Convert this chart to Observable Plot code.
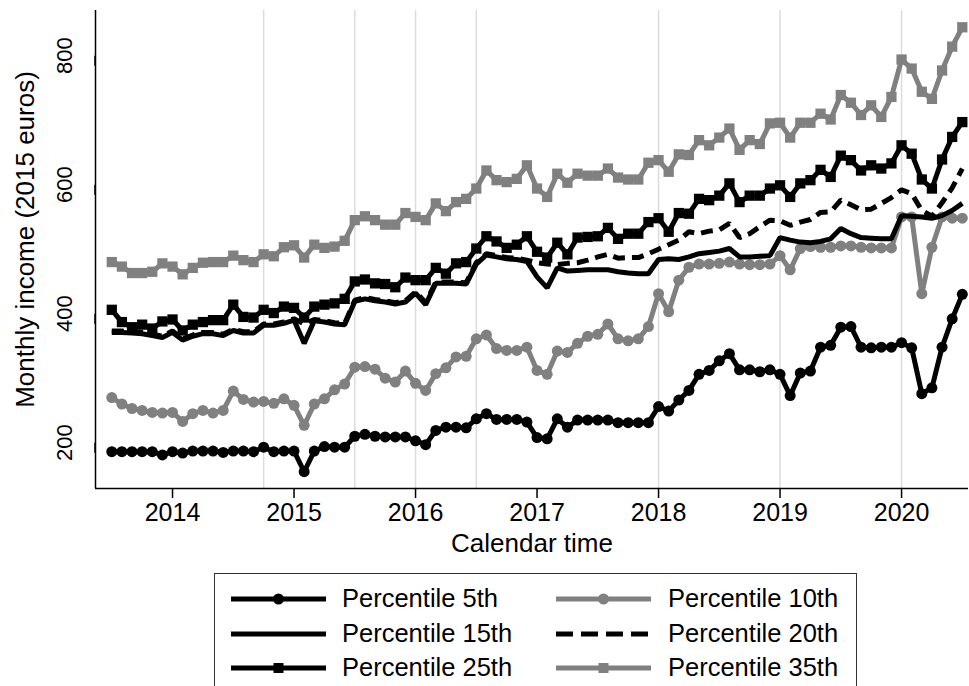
<!DOCTYPE html>
<html>
<head>
<meta charset="utf-8">
<script src="https://cdn.jsdelivr.net/npm/d3@7"></script>
<script src="https://cdn.jsdelivr.net/npm/@observablehq/plot@0.6"></script>
<style>
  body { margin: 0; background: white; }
  #wrap { position: relative; width: 969px; height: 686px; overflow: hidden; background: white; }
  #legend { position: absolute; left: 214px; top: 573px; width: 643px; height: 140px; border: 1.5px solid #333; box-sizing: border-box; font-family: "Liberation Sans", Arial, sans-serif; font-size: 25.5px; }
  .item-swatch { position: absolute; }
  .item-text { position: absolute; white-space: nowrap; transform: translateY(-50%); line-height: 1; }
</style>
</head>
<body>
<div id="wrap"></div>
<script>
// Monthly observations, July 2013 to July 2020
const startYear = 2013.5;
const yearTicks = [2014, 2015, 2016, 2017, 2018, 2019, 2020];
const gridYears = [2014.75, 2015.5, 2016, 2016.5, 2018, 2019, 2020];
const yTicks = [200, 400, 600, 800];
const xDomain = [2013.366, 2020.551];
const yDomain = [129, 870];
const xTitle = "Calendar time";
const yTitle = "Monthly income (2015 euros)";

const p5 = [186,186,186,186,186,181,186,184,187,187,187,185,187,187,186,
  193,186,187,187,155,187,194,193,193,210,213,210,209,209,209,203,197,219,224,224,223,237,245,236,236,236,232,208,206,237,224,235,235,235,235,231,231,231,231,256,249,266,281,306,312,327,338,313,313,310,313,306,273,308,311,348,351,379,380,348,347,348,348,355,347,276,285,348,392,430];
const p10 = [270,260,253,250,247,246,247,233,245,250,246,250,280,267,263,264,261,268,258,227,260,268,282,291,317,318,314,300,
  294,311,292,281,307,316,333,334,361,367,346,343,343,348,312,306,342,340,354,365,368,384,361,358,361,380,431,403,452,
  472,477,477,478,480,477,476,476,477,490,468,501,504,503,503,505,505,503,502,502,502,550,550,431,503,550,548,548];
const p15 = [371,371,370,369,366,363,371,359,365,369,369,366,374,370,370,382,382,385,390,354,389,387,384,383,419,423,420,418,
  415,418,432,414,447,447,447,446,477,491,488,485,484,481,457,440,471,466,467,468,468,468,465,463,462,462,
  484,485,484,488,493,495,497,501,488,488,489,490,518,514,511,510,512,516,532,524,518,517,516,516,552,551,550,548,552,560,571];
const p20 = [373,373,372,371,368,365,373,361,367,371,371,368,376,372,372,384,384,387,392,384,391,389,386,385,421,425,422,420,417,420,434,417,449,449,449,448,479,493,490,487,486,483,
  479,477,476,478,479,483,488,492,486,487,487,493,500,507,514,527,524,528,530,540,518,524,535,545,544,537,542,546,557,558,576,569,561,562,571,580,592,586,560,551,572,595,625];
const p25 = [406,387,379,383,377,388,391,374,383,387,390,390,414,395,394,406,401,411,409,394,411,414,416,423,450,453,447,446,
  441,456,452,452,471,462,478,480,501,520,512,502,507,520,496,487,510,492,518,519,520,533,516,524,524,542,548,527,556,
  555,578,576,583,602,573,583,583,594,599,581,602,607,623,612,645,638,622,630,625,633,661,648,608,594,639,674,697];
const p35 = [480,473,463,463,465,478,473,461,471,479,480,480,490,483,480,492,489,503,506,487,507,502,504,513,545,551,545,538,
  538,556,550,545,571,559,573,578,594,622,607,604,609,630,594,581,617,603,617,614,614,625,611,608,608,634,638,620,647,
  646,669,661,673,687,654,669,663,695,696,673,696,696,710,701,739,727,708,723,705,736,794,780,744,733,777,814,844];

const seriesNames = ["Percentile 5th","Percentile 10th","Percentile 15th","Percentile 20th","Percentile 25th","Percentile 35th"];
const seriesValues = [p5, p10, p15, p20, p25, p35];
const seriesColors = ["#000000","#808080","#000000","#000000","#000000","#808080"];
const seriesSymbols = ["circle","circle",null,null,"square","square"];
const seriesDash = [null,null,null,"12,7",null,null];

const series = seriesNames.map((name, k) => ({
  name, color: seriesColors[k], symbol: seriesSymbols[k], dash: seriesDash[k],
  data: seriesValues[k].map((v, i) => ({t: startYear + i / 12, v}))
}));

const marks = [
  Plot.ruleX(gridYears, {stroke: "#dcdcdc", strokeWidth: 1.5}),
  Plot.ruleY([yDomain[0]], {stroke: "black", strokeWidth: 1.5}),
  Plot.ruleX([xDomain[0]], {stroke: "black", strokeWidth: 1.5}),
  Plot.axisX({ticks: yearTicks, tickFormat: d => String(d), tickSize: 10, tickPadding: 5, fontSize: 25,
    label: null, strokeWidth: 1.5}),
  Plot.axisY({ticks: yTicks, tickSize: 10, tickPadding: 21, fontSize: 22, rotate: -90, textAnchor: "middle", lineAnchor: "middle",
    label: null, strokeWidth: 1.5}),
  Plot.text([xTitle], {text: d => d, frameAnchor: "bottom", dy: 55, lineAnchor: "middle", fontSize: 26}),
  Plot.text([yTitle], {text: d => d, frameAnchor: "left", dx: -70, dy: -10, rotate: -90, textAnchor: "middle", lineAnchor: "middle", fontSize: 26})
];
for (const s of series) {
  marks.push(Plot.line(s.data, {x: "t", y: "v", stroke: s.color, strokeWidth: 5, strokeDasharray: s.dash || undefined,
    strokeLinejoin: "miter", strokeLinecap: "butt"}));
  if (s.symbol) {
    marks.push(Plot.dot(s.data, {x: "t", y: "v", fill: s.color, stroke: "none", symbol: s.symbol, r: s.symbol === "circle" ? 5.5 : 5.8}));
  }
}

const chart = Plot.plot({
  width: 969, height: 560,
  marginLeft: 95, marginRight: 1, marginTop: 10, marginBottom: 72,
  x: {domain: xDomain},
  y: {domain: yDomain},
  style: {fontFamily: "'Liberation Sans', Arial, sans-serif", fontSize: "24px", background: "white", color: "black"},
  marks
});
const wrap = document.getElementById("wrap");
wrap.appendChild(chart);

// Legend
const legend = document.createElement("div");
legend.id = "legend";
const rowCenters = [25, 60, 94];
const colSwatch = [16, 341];
const colText = [127, 453];
series.forEach((s, k) => {
  const row = Math.floor(k / 2), col = k % 2;
  const sw = d3.create("svg").attr("class", "item-swatch").attr("width", 95).attr("height", 20)
    .style("left", colSwatch[col] + "px").style("top", (rowCenters[row] - 10) + "px");
  sw.append("line").attr("x1", 0).attr("x2", 95).attr("y1", 10).attr("y2", 10)
    .attr("stroke", s.color).attr("stroke-width", 5).attr("stroke-dasharray", s.dash ? "17,8" : null);
  if (s.symbol === "circle") sw.append("circle").attr("cx", 47.5).attr("cy", 10).attr("r", 5.5).attr("fill", s.color);
  if (s.symbol === "square") sw.append("rect").attr("x", 42.5).attr("y", 5).attr("width", 10).attr("height", 10).attr("fill", s.color);
  legend.appendChild(sw.node());
  const tx = document.createElement("div");
  tx.className = "item-text";
  tx.style.left = colText[col] + "px";
  tx.style.top = rowCenters[row] + "px";
  tx.textContent = s.name;
  legend.appendChild(tx);
});
wrap.appendChild(legend);
</script>
</body>
</html>
